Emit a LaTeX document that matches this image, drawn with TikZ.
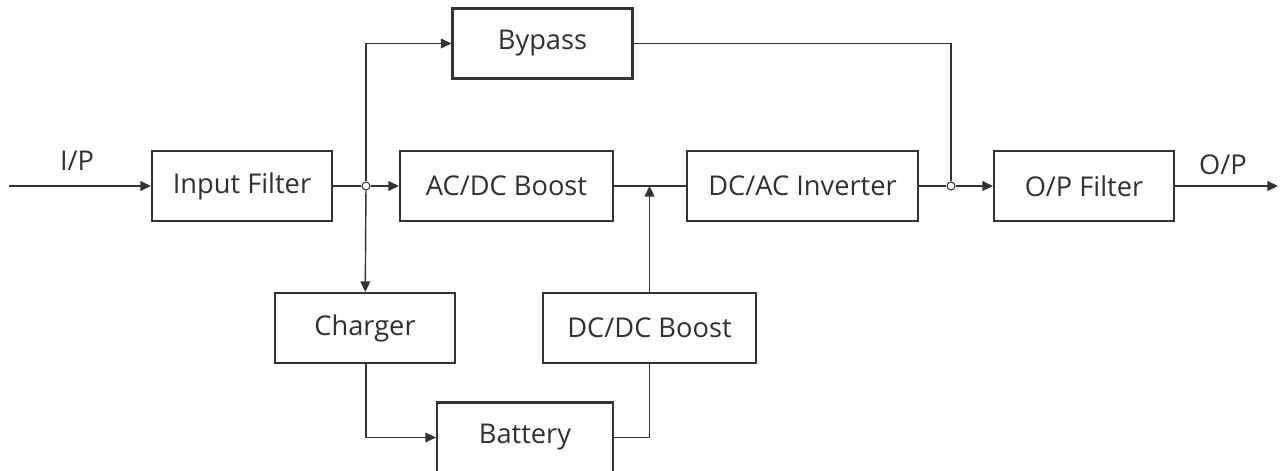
\documentclass[tikz,border=0pt]{standalone}
\usepackage{fontspec}
\setmainfont{Open Sans}
\usetikzlibrary{arrows.meta}

\definecolor{lineGray}{HTML}{333333}
\definecolor{textGray}{HTML}{303030}

\begin{document}
\begin{tikzpicture}[x=0.02cm,y=-0.02cm,
    font=\fontsize{15.5}{18}\selectfont,text=textGray]
  \useasboundingbox (0,0) rectangle (1280,470);

  \tikzstyle{BoxStyle}=[draw=lineGray,line width=1.2pt,inner sep=0pt,
    minimum width=3.6cm,minimum height=1.4cm]
  \tikzstyle{EdgeStyle}=[draw=lineGray,line width=0.8pt,
    -{Triangle[length=6pt,width=5.5pt]}]
  \tikzstyle{LineStyle}=[draw=lineGray,line width=0.8pt]
  \tikzstyle{DotStyle}=[circle,draw=lineGray,fill=white,line width=0.6pt,
    inner sep=0pt,minimum size=0.16cm]

  \node[BoxStyle] (bypass)   at (542.5,43.5) {Bypass};
  \node[BoxStyle] (inFilter) at (242,186)    {Input Filter};
  \node[BoxStyle,minimum width=4.26cm] (acdc) at (506.5,186) {AC/DC Boost};
  \node[BoxStyle,minimum width=4.62cm] (dcac) at (802.5,186) {DC/AC Inverter};
  \node[BoxStyle] (outFilter) at (1084,186)  {O/P Filter};
  \node[BoxStyle] (charger)  at (365,328)    {Charger};
  \node[BoxStyle,minimum width=4.26cm] (dcdc) at (649.5,328) {DC/DC Boost};
  \node[BoxStyle,minimum width=3.52cm] (battery) at (525,437.5) {Battery};

  \coordinate (in)  at (9,186);
  \coordinate (out) at (1278,186);
  \coordinate (link) at (649.5,186);
  \node[DotStyle] (splitIn)  at (366,186) {};
  \node[DotStyle] (splitOut) at (951,186) {};

  \node (ipLabel) at (77,161)   {I/P};
  \node (opLabel) at (1223,165) {O/P};

  \draw[EdgeStyle] (in) -- (inFilter);
  \draw[LineStyle] (inFilter) -- (splitIn);
  \draw[EdgeStyle] (splitIn) -- (acdc);
  \draw[EdgeStyle] (splitIn) |- (bypass);
  \draw[EdgeStyle] (splitIn) -- (charger);
  \draw[LineStyle] (bypass) -| (splitOut);
  \draw[LineStyle] (acdc) -- (dcac);
  \draw[EdgeStyle,line width=1.1pt] (dcdc) -- (link);
  \draw[LineStyle] (dcac) -- (splitOut);
  \draw[EdgeStyle] (splitOut) -- (outFilter);
  \draw[EdgeStyle] (outFilter) -- (out);
  \draw[EdgeStyle] (charger.south -| splitIn) |- (battery);
  \draw[LineStyle] (battery) -| (dcdc);
\end{tikzpicture}
\end{document}
